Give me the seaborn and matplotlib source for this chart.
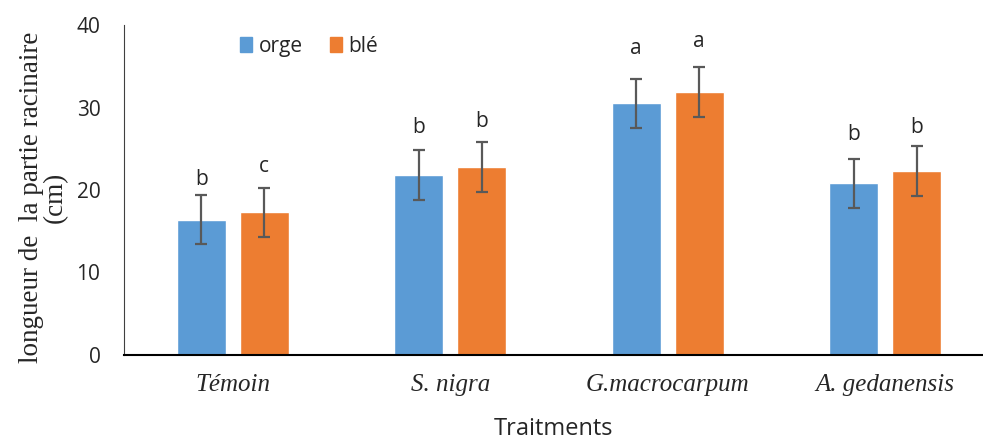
import pandas as pd
import seaborn as sns
import matplotlib.pyplot as plt
from matplotlib.patches import Patch

traitements = ["Témoin", "S. nigra", "G.macrocarpum", "A. gedanensis"]
orge = [16.4, 21.8, 30.5, 20.8]
ble = [17.3, 22.8, 31.9, 22.3]
err_orge = [3, 3, 3, 3]
err_ble = [3, 3, 3, 3]
lettres_orge = ["b", "b", "a", "b"]
lettres_ble = ["c", "b", "a", "b"]
y_lettres_orge = [21.3, 27.6, 37.1, 26.7]
y_lettres_ble = [22.8, 28.3, 38.0, 27.6]

df = pd.DataFrame({
    "Traitement": traitements * 2,
    "longueur": orge + ble,
    "culture": ["orge"] * 4 + ["blé"] * 4,
})

sns.set_style("white")
plt.rcParams["font.family"] = ["Open Sans", "DejaVu Sans"]

fig = plt.figure(figsize=(9.83, 4.41), dpi=100)
ax = fig.add_axes([124 / 983, 86 / 441, (983 - 124) / 983, 330 / 441])

palette = {"orge": "#5B9BD5", "blé": "#ED7D31"}
sns.barplot(data=df, x="Traitement", y="longueur", hue="culture", palette=palette,
            width=0.58, gap=0.22, errorbar=None, saturation=1, ax=ax, legend=False)

# error bars + letters, positioned from the drawn patches
bars = ax.patches
for i, p in enumerate(bars[:8]):
    j = i % 4
    if i < 4:
        val, err, lab, ly = orge[j], err_orge[j], lettres_orge[j], y_lettres_orge[j]
    else:
        val, err, lab, ly = ble[j], err_ble[j], lettres_ble[j], y_lettres_ble[j]
    xc = p.get_x() + p.get_width() / 2
    ax.errorbar(xc, val, yerr=err, color="#595959", capsize=4.5, elinewidth=1.6, capthick=1.6)
    ax.text(xc, ly, lab, ha="center", va="center", fontsize=15)

ax.set_ylim(0, 40)
ax.set_yticks([0, 10, 20, 30, 40])
ax.set_xlim(-0.5, 3.45)
ax.tick_params(axis="y", labelsize=15, length=0, pad=17)
ax.tick_params(axis="x", length=0, pad=14)
ax.set_xticks(range(4))
ax.set_xticklabels(traitements, fontsize=18, style="italic", family="Liberation Serif")

ax.set_xlabel("Traitments", fontsize=17, labelpad=15)
ax.set_ylabel("longueur de  la partie racinaire\n(cm)", fontsize=19.5,
              family="Liberation Serif", linespacing=0.95)
ax.yaxis.set_label_coords(-0.065, 0.479)

for s in ["top", "right"]:
    ax.spines[s].set_visible(False)
ax.spines["left"].set_color("#404040")
ax.spines["bottom"].set_color("black")
ax.spines["bottom"].set_linewidth(1.5)

handles = [Patch(color=palette["orge"], label="orge"), Patch(color=palette["blé"], label="blé")]
ax.legend(handles=handles, loc="upper left", bbox_to_anchor=(0.113, 1.024), ncol=2, frameon=False,
          fontsize=15, handlelength=0.6, handleheight=0.7, handletextpad=0.3, columnspacing=1.3)

fig.savefig("out.png", dpi=100)
